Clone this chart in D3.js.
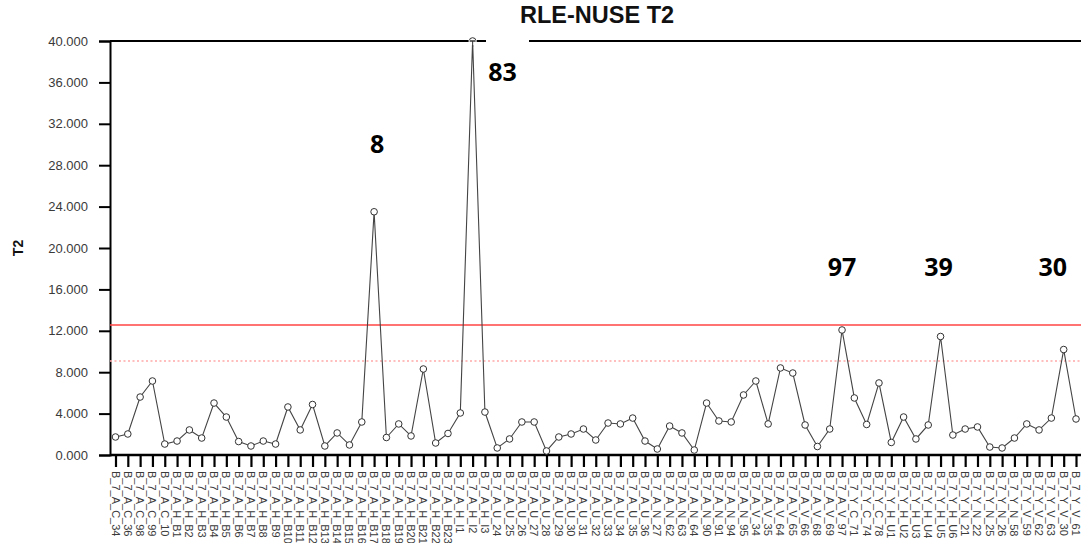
<!DOCTYPE html>
<html>
<head>
<meta charset="utf-8">
<script src="https://cdn.jsdelivr.net/npm/d3@7"></script>
<style>
  body { margin: 0; background: #fff; overflow: hidden; }
  svg { display: block; }
</style>
</head>
<body>
<svg id="chart"></svg>
<script>
// === dane ===
const samples = [
  "B_7_A_C_34", "B_7_A_C_36", "B_7_A_C_98", "B_7_A_C_99", "B_7_A_C_10",
  "B_7_A_H_B1", "B_7_A_H_B2", "B_7_A_H_B3", "B_7_A_H_B4", "B_7_A_H_B5",
  "B_7_A_H_B6", "B_7_A_H_B7", "B_7_A_H_B8", "B_7_A_H_B9", "B_7_A_H_B10",
  "B_7_A_H_B11", "B_7_A_H_B12", "B_7_A_H_B13", "B_7_A_H_B14", "B_7_A_H_B15",
  "B_7_A_H_B16", "B_7_A_H_B17", "B_7_A_H_B18", "B_7_A_H_B19", "B_7_A_H_B20",
  "B_7_A_H_B21", "B_7_A_H_B22", "B_7_A_H_B23", "B_7_A_H_I1", "B_7_A_H_I2",
  "B_7_A_H_I3", "B_7_A_U_24", "B_7_A_U_25", "B_7_A_U_26", "B_7_A_U_27",
  "B_7_A_U_28", "B_7_A_U_29", "B_7_A_U_30", "B_7_A_U_31", "B_7_A_U_32",
  "B_7_A_U_33", "B_7_A_U_34", "B_7_A_U_35", "B_7_A_U_36", "B_7_A_N_27",
  "B_7_A_N_62", "B_7_A_N_63", "B_7_A_N_64", "B_7_A_N_90", "B_7_A_N_91",
  "B_7_A_N_94", "B_7_A_N_95", "B_7_A_V_34", "B_7_A_V_35", "B_7_A_V_64",
  "B_7_A_V_65", "B_7_A_V_66", "B_7_A_V_68", "B_7_A_V_69", "B_7_A_V_97",
  "B_7_Y_C_71", "B_7_Y_C_74", "B_7_Y_C_78", "B_7_Y_H_U1", "B_7_Y_H_U2",
  "B_7_Y_H_U3", "B_7_Y_H_U4", "B_7_Y_H_U5", "B_7_Y_H_U6", "B_7_Y_N_21",
  "B_7_Y_N_22", "B_7_Y_N_25", "B_7_Y_N_26", "B_7_Y_N_58", "B_7_Y_V_59",
  "B_7_Y_V_62", "B_7_Y_V_63", "B_7_Y_V_30", "B_7_Y_V_61"
];

const t2Values = [
  1.74, 2.03, 5.60, 7.15, 1.06, 1.35, 2.42, 1.64, 5.02, 3.67,
  1.30, 0.87, 1.35, 1.06, 4.64, 2.42, 4.88, 0.87, 2.13, 0.97,
  3.19, 23.50, 1.69, 3.00, 1.84, 8.31, 1.16, 2.08, 4.06, 40.00,
  4.15, 0.68, 1.55, 3.19, 3.19, 0.39, 1.74, 2.03, 2.51, 1.45,
  3.09, 3.00, 3.57, 1.35, 0.58, 2.80, 2.13, 0.48, 5.02, 3.29,
  3.19, 5.80, 7.15, 3.00, 8.41, 7.92, 2.90, 0.82, 2.51, 12.08,
  5.51, 2.95, 6.96, 1.21, 3.67, 1.55, 2.90, 11.45, 1.93, 2.51,
  2.71, 0.77, 0.68, 1.64, 3.00, 2.42, 3.57, 10.19, 3.48
];

const yTicks = [0, 4, 8, 12, 16, 20, 24, 28, 32, 36, 40];

const limit99 = 12.56;   // granica kontrolna (linia ciągła)
const limit95 = 9.08;    // granica ostrzegawcza (kropkowana)

// etykiety nad pikami: tekst, indeks próbki, wysokość (w jednostkach T2), przesunięcie w px
const peakLabels = ["8", "83", "97", "39", "30"];
const peakIndex  = [21, 29, 59, 67, 77];
const peakLevel  = [29.2, 36.1, 17.3, 17.3, 17.3];
const peakShift  = [3, 30, 0, -2, -11];

// === wykres ===
const W = 1081, H = 543;
const plotLeft = 110, plotTop = 41, plotBottom = 455;

const svg = d3.select("#chart").attr("width", W).attr("height", H);

const x = d3.scalePoint().domain(samples).range([115.5, 1076]);
const y = d3.scaleLinear().domain([0, 40]).range([plotBottom, plotTop]);

// tytuł (częściowo zasłonięty)
svg.append("text")
    .attr("x", 520).attr("y", 23)
    .attr("font-family", "Liberation Sans, Arial, sans-serif")
    .attr("font-weight", "bold")
    .attr("font-size", 23.5)
    .attr("fill", "#111")
    .text("RLE-NUSE T2");

// oś Y
const yAxis = svg.append("g")
    .attr("transform", `translate(${plotLeft},0)`)
    .call(d3.axisLeft(y).tickValues(yTicks).tickFormat(d3.format(".3f")).tickSize(11).tickPadding(11));
yAxis.select(".domain").attr("stroke", "#000").attr("stroke-width", 2);
yAxis.selectAll(".tick line").attr("stroke", "#000").attr("stroke-width", 2);
yAxis.selectAll(".tick text")
    .attr("font-family", "Liberation Sans, Arial, sans-serif")
    .attr("font-size", 13)
    .attr("fill", "#3a3a3a");

svg.append("text")
    .attr("transform", "translate(23,248) rotate(-90)")
    .attr("text-anchor", "middle")
    .attr("font-family", "Liberation Sans, Arial, sans-serif")
    .attr("font-weight", "bold")
    .attr("font-size", 14)
    .attr("fill", "#111")
    .text("T2");

// oś X
const xAxis = svg.append("g")
    .attr("transform", `translate(0,${plotBottom})`)
    .call(d3.axisBottom(x).tickSize(12).tickFormat(""));
xAxis.select(".domain").attr("d", `M${plotLeft},0H${W}`).attr("stroke", "#000").attr("stroke-width", 2.5);
xAxis.selectAll(".tick line").attr("stroke", "#000").attr("stroke-width", 2.2);

svg.append("g").selectAll("text")
    .data(samples)
    .enter().append("text")
    .attr("transform", d => `translate(${x(d) - 4},471) rotate(90)`)
    .attr("font-family", "Liberation Sans, Arial, sans-serif")
    .attr("font-size", 11)
    .attr("fill", "#3a3a3a")
    .text(d => d);

// granice kontrolne
svg.append("line")
    .attr("x1", plotLeft).attr("x2", W)
    .attr("y1", y(limit99)).attr("y2", y(limit99))
    .attr("stroke", "#ff4444").attr("stroke-width", 1.6);
svg.append("line")
    .attr("x1", plotLeft).attr("x2", W)
    .attr("y1", y(limit95)).attr("y2", y(limit95))
    .attr("stroke", "#ffa8a8").attr("stroke-width", 1.6)
    .attr("stroke-dasharray", "2,2.5");

// seria T2
const pts = samples.map((s, i) => ({ s, v: t2Values[i] }));

svg.append("path")
    .datum(pts)
    .attr("fill", "none")
    .attr("stroke", "#444")
    .attr("stroke-width", 1.1)
    .attr("d", d3.line().x(d => x(d.s)).y(d => y(d.v)));

svg.append("g").selectAll("circle")
    .data(pts)
    .enter().append("circle")
    .attr("cx", d => x(d.s))
    .attr("cy", d => y(d.v))
    .attr("r", 3.3)
    .attr("fill", "#fff")
    .attr("stroke", "#333")
    .attr("stroke-width", 1);

// górna ramka (nad punktami)
svg.append("line")
    .attr("x1", plotLeft).attr("x2", W).attr("y1", plotTop).attr("y2", plotTop)
    .attr("stroke", "#000").attr("stroke-width", 2);
svg.append("rect")
    .attr("x", x(samples[29]) - 4).attr("y", plotTop - 1).attr("width", 8).attr("height", 5)
    .attr("fill", "#fff");
svg.append("line")
    .attr("x1", x(samples[29])).attr("x2", x(samples[29]))
    .attr("y1", plotTop).attr("y2", plotTop + 6)
    .attr("stroke", "#444").attr("stroke-width", 1.1);
svg.append("line")
    .attr("x1", x(samples[29]) - 3).attr("x2", x(samples[29]) + 3)
    .attr("y1", plotTop).attr("y2", plotTop)
    .attr("stroke", "#333").attr("stroke-width", 1.5);

// biała wstawka zasłaniająca fragment ramki
svg.append("rect")
    .attr("x", 486).attr("y", 30).attr("width", 43).attr("height", 60)
    .attr("fill", "#fff");

// numery próbek nad pikami
svg.append("g").selectAll("text")
    .data(peakLabels)
    .enter().append("text")
    .attr("x", (d, i) => x(samples[peakIndex[i]]) + peakShift[i])
    .attr("y", (d, i) => y(peakLevel[i]))
    .attr("text-anchor", "middle")
    .attr("font-family", "Open Sans, Liberation Sans, sans-serif")
    .attr("font-weight", "bold")
    .attr("font-size", 25)
    .attr("fill", "#000")
    .text(d => d);
</script>
</body>
</html>
